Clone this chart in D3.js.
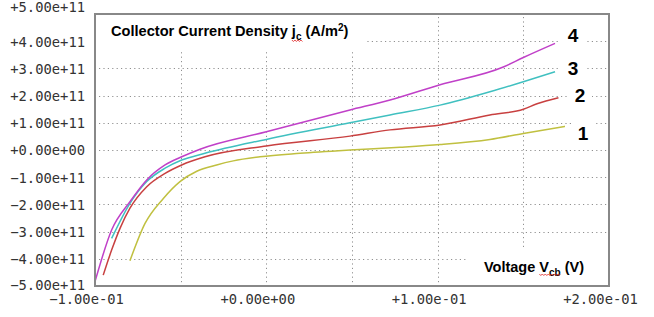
<!DOCTYPE html>
<html><head><meta charset="utf-8">
<script src="https://cdn.jsdelivr.net/npm/d3@7"></script>
<style>body{margin:0;background:#fff}svg{display:block}</style>
</head><body>
<svg id="c" width="654" height="317"></svg>
<script>
// ---- data (j in units of 1e11 A/m^2, V in volts) ----
const xTicks = [-0.1, 0.0, 0.1, 0.2];
const xGrid = [-0.05, 0.0, 0.05, 0.1, 0.15];
const yTicks = [-5, -4, -3, -2, -1, 0, 1, 2, 3, 4, 5];
const yGrid = [-4, -3, -2, -1, 0, 1, 2, 3, 4];
const seriesNames = ["1", "2", "3", "4"];

const v1 = [-0.0796, -0.0708, -0.0601, -0.0504, -0.0406, -0.029, -0.0193, -0.0037, 0.0197, 0.0488, 0.078, 0.1014, 0.1305, 0.15, 0.1743];
const j1 = [-4.07, -2.70, -1.78, -1.16, -0.78, -0.55, -0.40, -0.25, -0.12, 0.0, 0.10, 0.20, 0.39, 0.61, 0.87];
const v2 = [-0.0952, -0.0903, -0.0854, -0.0796, -0.0698, -0.0591, -0.0494, -0.0358, 0.0, 0.0488, 0.0722, 0.1014, 0.1305, 0.15, 0.1580, 0.1705];
const j2 = [-4.60, -3.68, -2.88, -2.14, -1.35, -0.86, -0.55, -0.25, 0.15, 0.51, 0.74, 0.92, 1.29, 1.50, 1.70, 1.92];
const v3 = [-0.0903, -0.0796, -0.0698, -0.0591, -0.0494, -0.0358, 0.0, 0.0488, 0.0722, 0.1014, 0.1305, 0.15, 0.1685];
const j3 = [-3.25, -1.96, -1.16, -0.67, -0.37, -0.12, 0.39, 1.00, 1.29, 1.65, 2.14, 2.51, 2.88];
const v4 = [-0.1, -0.0903, -0.0796, -0.0698, -0.0591, -0.0494, -0.0387, 0.0, 0.0488, 0.0722, 0.1014, 0.1383, 0.15, 0.1685];
const j4 = [-4.84, -2.94, -1.90, -1.10, -0.55, -0.25, 0.03, 0.67, 1.47, 1.84, 2.40, 3.05, 3.40, 3.92];

const colors = ["#c0c040", "#c84040", "#40c0c0", "#c040c8"];
const series = [[v1, j1], [v2, j2], [v3, j3], [v4, j4]];

// ---- layout ----
const svg = d3.select("#c");
const L = 95, R = 609, T = 14, B = 286;
const x = d3.scaleLinear().domain([-0.1, 0.2]).range([L, R]);
const y = d3.scaleLinear().domain([-5, 5]).range([B, T]);

function sci(v) {
  const s = d3.format("+.2e")(v);
  return s.replace(/e([+-])(\d)$/, "e$10$2");
}

// grid
const grid = svg.append("g").attr("stroke", "#909090").attr("stroke-width", 1).attr("stroke-dasharray", "1.2,3.2");
grid.selectAll("line.h").data(yGrid).join("line")
  .attr("x1", L + 4).attr("x2", R).attr("y1", d => Math.round(y(d)) + 0.5).attr("y2", d => Math.round(y(d)) + 0.5);
grid.selectAll("line.v").data(xGrid).join("line")
  .attr("y1", T + 3).attr("y2", B).attr("x1", d => Math.round(x(d)) + 0.5).attr("x2", d => Math.round(x(d)) + 0.5);

// curves
const line = d3.line().x(d => x(d[0])).y(d => y(d[1])).curve(d3.curveMonotoneX);
series.forEach((s, i) => {
  const pts = s[0].map((v, k) => [v, s[1][k]]);
  svg.append("path").datum(pts).attr("d", line)
    .attr("fill", "none").attr("stroke", colors[i]).attr("stroke-width", 1.5);
});

// border
svg.append("rect").attr("x", L).attr("y", T).attr("width", R - L).attr("height", B - T)
  .attr("fill", "none").attr("stroke", "#888").attr("stroke-width", 2);

// axes
const yAxis = d3.axisLeft(y).tickValues(yTicks).tickFormat(d => sci(d * 1e11)).tickSize(0).tickPadding(10);
const gy = svg.append("g").attr("transform", `translate(${L},0)`).call(yAxis);
gy.select(".domain").remove();
gy.selectAll("text").attr("font-family", "DejaVu Sans Mono").attr("font-size", 13.8).attr("fill", "#333")
  .attr("dy", d => d === 5 ? "-0.2em" : (d === -5 ? "0.28em" : "0.35em"));

const xAxis = d3.axisBottom(x).tickValues(xTicks).tickFormat(sci).tickSize(0).tickPadding(8);
const gx = svg.append("g").attr("transform", `translate(0,${B})`).call(xAxis);
gx.select(".domain").remove();
gx.selectAll("text").attr("font-family", "DejaVu Sans Mono").attr("font-size", 13.8).attr("fill", "#333")
  .attr("dx", -9);

// title box
svg.append("rect").attr("x", L + 1).attr("y", T + 1).attr("width", 269).attr("height", 37).attr("fill", "#fff");
const title = svg.append("text").attr("x", 111).attr("y", 36)
  .attr("font-family", "Liberation Sans, Arial").attr("font-weight", "bold").attr("font-size", 14.6).attr("fill", "#000");
title.append("tspan").text("Collector Current Density j");
title.append("tspan").attr("font-size", 10).attr("dy", 4).text("c");
title.append("tspan").attr("dy", -4).text(" (A/m");
title.append("tspan").attr("font-size", 10).attr("dy", -5).text("2");
title.append("tspan").attr("dy", 5).text(")");

// x label box
svg.append("rect").attr("x", 468).attr("y", 250).attr("width", R - 1 - 468).attr("height", B - 1 - 250).attr("fill", "#fff");
const xl = svg.append("text").attr("x", 484).attr("y", 272)
  .attr("font-family", "Liberation Sans, Arial").attr("font-weight", "bold").attr("font-size", 14.5).attr("fill", "#000");
xl.append("tspan").text("Voltage V");
xl.append("tspan").attr("font-size", 10).attr("dy", 4).text("cb");
xl.append("tspan").attr("dy", -4).text(" (V)");

// series labels
const labelPos = [[583, 133], [580, 95], [573, 68.5], [573, 35]];
seriesNames.forEach((n, i) => {
  const [lx, ly] = labelPos[i];
  svg.append("rect").attr("x", lx - 12).attr("y", ly - 11).attr("width", 24).attr("height", 22).attr("fill", "#fff");
  svg.append("text").attr("x", lx).attr("y", ly).attr("dy", "0.36em").attr("text-anchor", "middle")
    .attr("font-family", "Liberation Sans, Arial").attr("font-weight", "bold").attr("font-size", 19).attr("fill", "#000").text(n);
});

// spell-check squiggles (as in reference)
function squiggle(x0, x1, yy) {
  let d = `M${x0},${yy}`;
  for (let xx = x0 + 1.5, k = 0; xx <= x1 + 0.01; xx += 1.5, k++) d += `L${xx},${yy + (k % 2 ? 0 : 1.5)}`;
  svg.append("path").attr("d", d).attr("fill", "none").attr("stroke", "#e02020").attr("stroke-width", 0.8);
}
const tn = title.node();
const c0 = tn.getStartPositionOfChar(27).x, c1 = tn.getEndPositionOfChar(27).x;
squiggle(c0 - 4, c1 + 1, 40);
const xn = xl.node();
const v0 = xn.getStartPositionOfChar(8).x, vb1 = xn.getEndPositionOfChar(10).x;
squiggle(v0, vb1, 274);
</script>
</body></html>
